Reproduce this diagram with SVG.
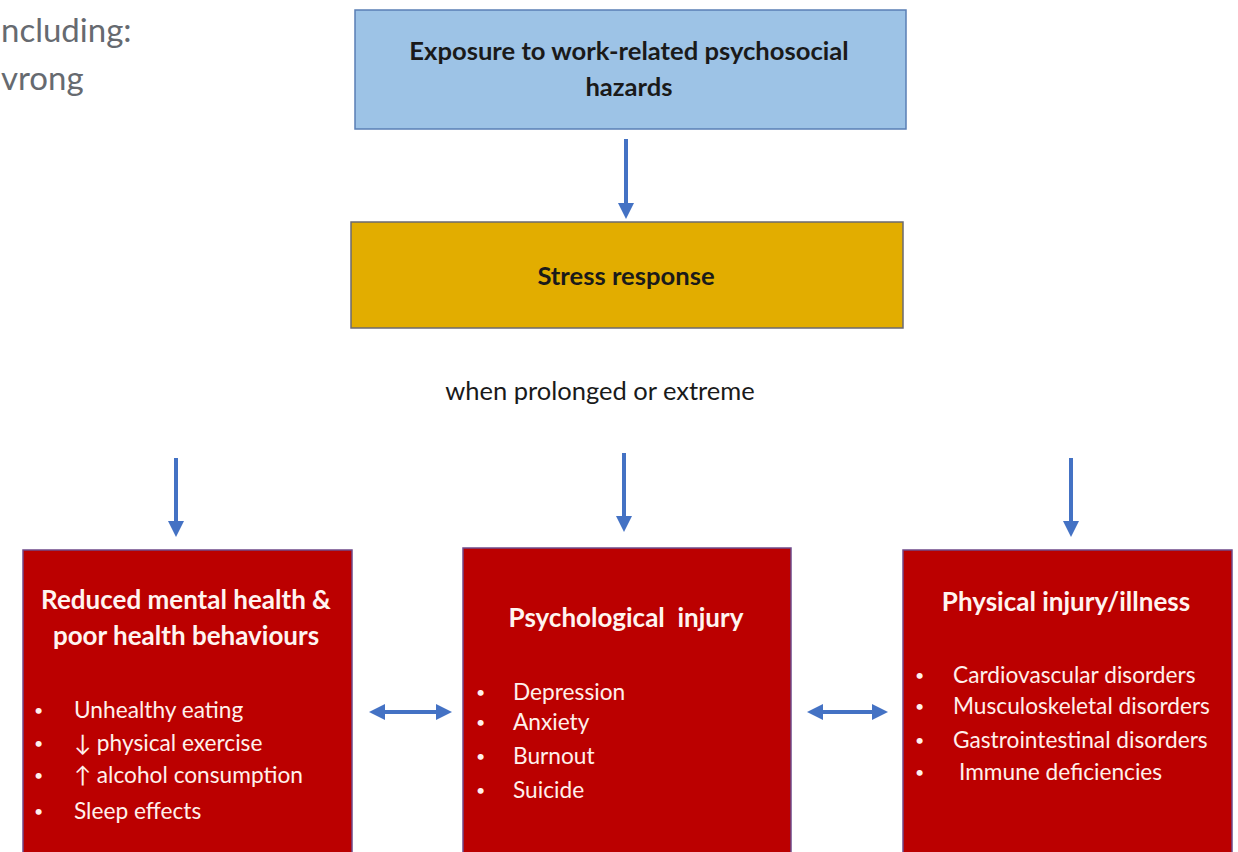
<svg xmlns="http://www.w3.org/2000/svg" width="1238" height="852" viewBox="0 0 1238 852">
  <style>
    .t { font-family: Lato, "Open Sans", "Liberation Sans", sans-serif; }
    .hd { font-weight: bold; font-size: 25.6px; fill: #1a1a1a; text-anchor: middle; }
    .rh { font-weight: bold; font-size: 26px; fill: #fff4f0; text-anchor: middle; }
    .it { font-size: 22.7px; fill: #fff0ec; }
    .bul { font-size: 16px; fill: #fff0ec; }
    .red { fill: #bb0000; stroke: #6f4a8a; stroke-width: 1.5; }
    .conn { stroke: #4472c4; stroke-width: 4; fill: none; }
  </style>
  <defs>
    <marker id="ah" markerWidth="4" markerHeight="4" refX="2" refY="2" orient="auto" markerUnits="strokeWidth">
      <path d="M0,0 L4,2 L0,4 z" fill="#4472c4"/>
    </marker>
    <marker id="ahs" markerWidth="4" markerHeight="4" refX="2" refY="2" orient="auto-start-reverse" markerUnits="strokeWidth">
      <path d="M0,0 L4,2 L0,4 z" fill="#4472c4"/>
    </marker>
  </defs>
  <rect width="1238" height="852" fill="#ffffff"/>

  <!-- partial text at the left margin -->
  <g id="margin-text" class="t" font-size="33" fill="#666a70">
    <text x="1" y="42">ncluding:</text>
    <text x="1" y="90">vrong</text>
  </g>

  <!-- connectors -->
  <g id="connectors">
    <line class="conn" x1="626" y1="139" x2="626" y2="211" marker-end="url(#ah)"/>
    <line class="conn" x1="176" y1="458" x2="176" y2="529" marker-end="url(#ah)"/>
    <line class="conn" x1="624" y1="453" x2="624" y2="524" marker-end="url(#ah)"/>
    <line class="conn" x1="1071" y1="458" x2="1071" y2="529" marker-end="url(#ah)"/>
    <line class="conn" x1="377" y1="712" x2="444" y2="712" marker-start="url(#ahs)" marker-end="url(#ah)"/>
    <line class="conn" x1="815" y1="712" x2="880" y2="712" marker-start="url(#ahs)" marker-end="url(#ah)"/>
  </g>

  <g id="node-exposure">
    <rect x="355" y="10" width="551" height="119" fill="#9dc3e6" stroke="#5a7fb5" stroke-width="1.5"/>
    <text class="t hd" x="629" y="60">Exposure to work-related psychosocial</text>
    <text class="t hd" x="629" y="96">hazards</text>
  </g>

  <g id="node-stress">
    <rect x="351" y="222" width="552" height="106" fill="#e2ad00" stroke="#6b6a70" stroke-width="1.5"/>
    <text class="t hd" x="626" y="285">Stress response</text>
  </g>

  <g id="label-prolonged">
    <text class="t" x="600" y="400" font-size="25.5" fill="#1a1a1a" text-anchor="middle">when prolonged or extreme</text>
  </g>

  <g id="node-mental">
    <rect class="red" x="23" y="550" width="329" height="310"/>
    <text class="t rh" x="186" y="609">Reduced mental health &amp;</text>
    <text class="t rh" x="186" y="645">poor health behaviours</text>
    <g class="t">
      <text class="bul" x="34" y="716">•</text><text class="it" x="74" y="718">Unhealthy eating</text>
      <text class="bul" x="34" y="749">•</text><text class="it" x="74" y="751">↓ physical exercise</text>
      <text class="bul" x="34" y="781">•</text><text class="it" x="74" y="783">↑ alcohol consumption</text>
      <text class="bul" x="34" y="817">•</text><text class="it" x="74" y="819">Sleep effects</text>
    </g>
  </g>

  <g id="node-psych">
    <rect class="red" x="463" y="548" width="328" height="312"/>
    <text class="t rh" x="626" y="627" style="white-space:pre">Psychological  injury</text>
    <g class="t">
      <text class="bul" x="476" y="698">•</text><text class="it" x="513" y="700">Depression</text>
      <text class="bul" x="476" y="728">•</text><text class="it" x="513" y="730">Anxiety</text>
      <text class="bul" x="476" y="762">•</text><text class="it" x="513" y="764">Burnout</text>
      <text class="bul" x="476" y="796">•</text><text class="it" x="513" y="798">Suicide</text>
    </g>
  </g>

  <g id="node-physical">
    <rect class="red" x="903" y="550" width="329" height="310"/>
    <text class="t rh" x="1066" y="611">Physical injury/illness</text>
    <g class="t">
      <text class="bul" x="915" y="681">•</text><text class="it" x="953" y="683">Cardiovascular disorders</text>
      <text class="bul" x="915" y="712">•</text><text class="it" x="953" y="714">Musculoskeletal disorders</text>
      <text class="bul" x="915" y="746">•</text><text class="it" x="953" y="748">Gastrointestinal disorders</text>
      <text class="bul" x="915" y="778">•</text><text class="it" x="959" y="780">Immune deficiencies</text>
    </g>
  </g>
</svg>
